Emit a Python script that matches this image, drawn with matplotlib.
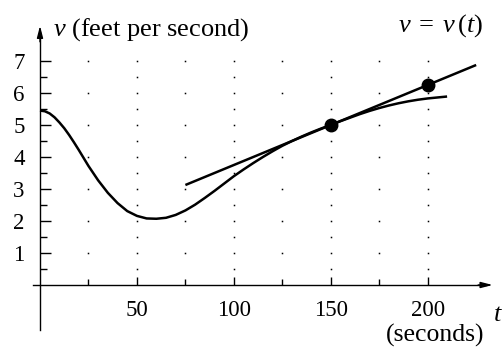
"""
Velocity curve v = v(t) with the tangent line at t = 150.
"""
import numpy as np
import matplotlib.pyplot as plt
from matplotlib.ticker import FixedLocator

plt.rcParams['font.family'] = 'Liberation Serif'
plt.rcParams['mathtext.fontset'] = 'custom'
plt.rcParams['mathtext.rm'] = 'Liberation Serif'
plt.rcParams['mathtext.it'] = 'Liberation Serif:italic'

# curve (seconds, feet per second)
t = [0, 2.5, 5, 7.5, 10, 12.5, 15, 17.5, 20, 25, 30, 35, 40, 45, 50, 55,
     60, 65, 70, 75, 80, 85, 90, 95, 100, 105, 110, 115, 120, 125, 130,
     135, 140, 145, 150, 155, 160, 165, 170, 175, 180, 185, 190, 195, 200,
     205, 210]
v = [5.45, 5.43, 5.36, 5.24, 5.08, 4.90, 4.69, 4.46, 4.22, 3.72, 3.27,
     2.88, 2.56, 2.31, 2.16, 2.08, 2.07, 2.10, 2.19, 2.33, 2.51, 2.72,
     2.94, 3.17, 3.40, 3.61, 3.81, 4.00, 4.18, 4.35, 4.50, 4.64, 4.77,
     4.89, 5.00, 5.12, 5.23, 5.34, 5.44, 5.53, 5.61, 5.68, 5.74, 5.79,
     5.83, 5.86, 5.89]

# tangent line at t = 150
tan_t = [75, 225]
tan_v = [3.125, 6.875]

# marked points
pt_t = [150, 200]
pt_v = [5.0, 6.25]

x_major = [50, 100, 150, 200]
x_minor = [25, 75, 125, 175]
y_major = [1, 2, 3, 4, 5, 6, 7]
y_minor = [0.5, 1.5, 2.5, 3.5, 4.5, 5.5, 6.5]

fig = plt.figure(figsize=(5.03, 3.47), dpi=100)
W, H = 503, 347
ax = fig.add_axes([32.25 / W, 14 / H, 463.3 / W, 310.4 / H])
ax.set_xlim(-4, 235)
ax.set_ylim(-1.5, 8.2)

# dotted grid: integers everywhere, half steps on the 50s
gx, gy = np.meshgrid(x_major + x_minor, y_major)
ax.plot(gx.ravel(), gy.ravel(), 's', color='black', ms=1.1, mew=0)
hx, hy = np.meshgrid(x_major, y_minor)
ax.plot(hx.ravel(), hy.ravel(), 's', color='black', ms=1.1, mew=0)

ax.plot(t, v, color='black', lw=1.8, solid_capstyle='butt',
        solid_joinstyle='round')
ax.plot(tan_t, tan_v, color='black', lw=1.8, solid_capstyle='butt')
ax.plot(pt_t, pt_v, 'o', color='black', ms=9)

# axes through the origin
for s in ['top', 'right']:
    ax.spines[s].set_visible(False)
ax.spines['left'].set_position(('data', 0))
ax.spines['bottom'].set_position(('data', 0))
ax.spines['left'].set_bounds(-1.4, 7.9)
ax.spines['bottom'].set_bounds(-3.6, 230)
for s in ['left', 'bottom']:
    ax.spines[s].set_linewidth(1.0)

ax.xaxis.set_major_locator(FixedLocator(x_major))
ax.xaxis.set_minor_locator(FixedLocator(x_minor))
ax.yaxis.set_major_locator(FixedLocator(y_major))
ax.yaxis.set_minor_locator(FixedLocator(y_minor))
ax.tick_params(axis='x', which='major', direction='in', length=6, width=1,
               pad=11, labelsize=16.5)
ax.tick_params(axis='x', which='minor', direction='in', length=4, width=1)
ax.tick_params(axis='y', which='major', direction='in', length=8, width=1,
               pad=11, labelsize=16.5)
ax.tick_params(axis='y', which='minor', direction='in', length=5, width=1)

# arrow heads
arrow = dict(arrowstyle='-|>,head_length=0.7,head_width=0.18',
             color='black', lw=1.0, shrinkA=0, shrinkB=0)
ax.annotate('', xy=(233.5, 0), xytext=(226, 0), arrowprops=arrow,
            annotation_clip=False)
ax.annotate('', xy=(0, 8.1), xytext=(0, 7.6), arrowprops=arrow,
            annotation_clip=False)

ax.text(6.5, 7.97, r'$v$ (feet per second)', fontsize=19, va='center',
        ha='left')
ax.text(206.5, 8.1, r'$v\;=\;v\,(t)$', fontsize=19, va='center',
        ha='center')
ax.text(236, -0.95, r'$t$', fontsize=19, va='center', ha='center',
        clip_on=False)
ax.text(204, -1.57, '(seconds)', fontsize=18.5, va='center', ha='center',
        clip_on=False)

fig.savefig('out.png', dpi=100)
